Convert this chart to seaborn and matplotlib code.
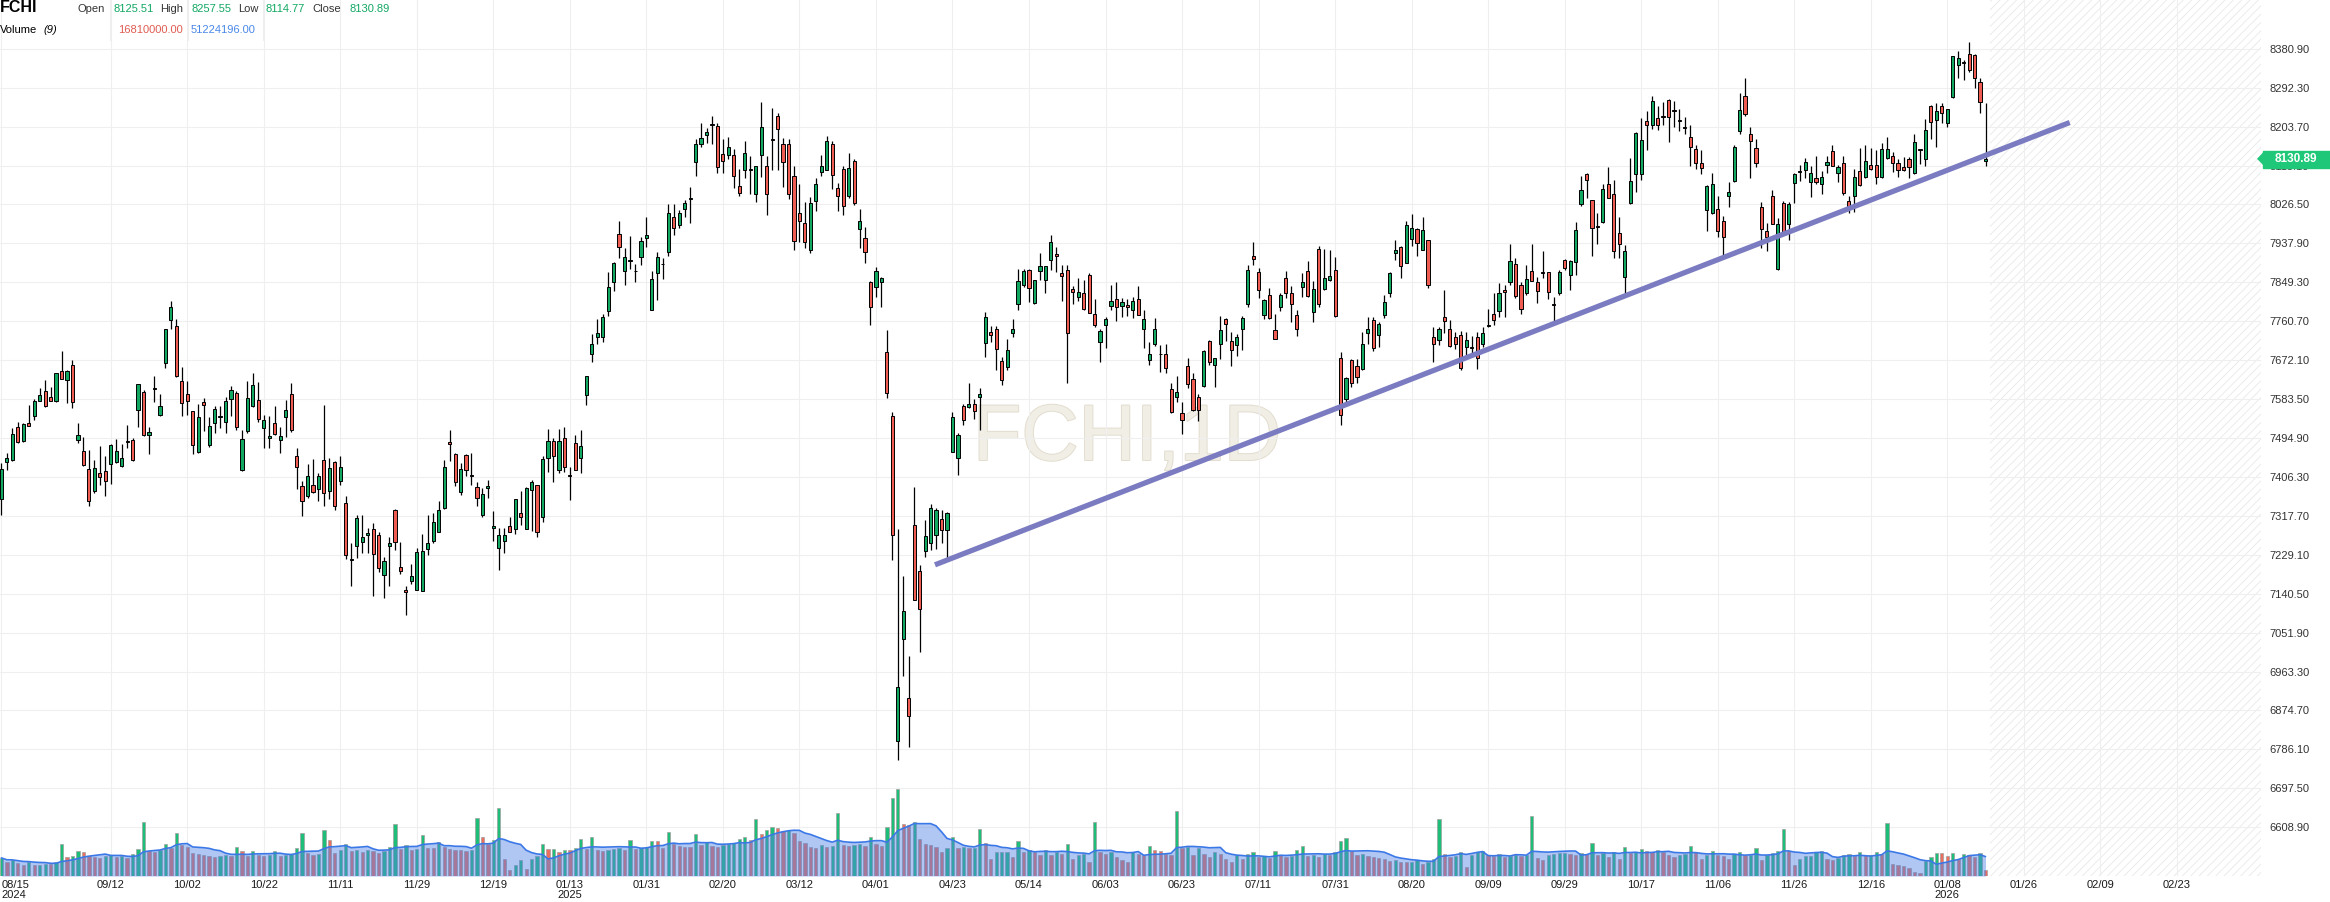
import numpy as np
import pandas as pd
import matplotlib
matplotlib.use("Agg")
import matplotlib.pyplot as plt
import matplotlib.patheffects as pe
from matplotlib.patches import Rectangle, Polygon
from matplotlib.lines import Line2D
import seaborn as sns

# FCHI daily candles, 2024-08-15 .. 2026-01-16
open_ = [
    7356, 7441, 7445, 7520, 7487, 7529, 7544, 7579, 7601, 7588,
    7578, 7648, 7628, 7661, 7490, 7465, 7424, 7375, 7415, 7419,
    7435, 7441, 7432, 7486, 7490, 7558, 7599, 7501, 7607, 7548,
    7665, 7763, 7750, 7624, 7595, 7556, 7464, 7576, 7480, 7528,
    7543, 7531, 7583, 7597, 7421, 7510, 7567, 7582, 7517, 7494,
    7529, 7490, 7542, 7595, 7453, 7385, 7364, 7387, 7378, 7444,
    7374, 7440, 7396, 7346, 7217, 7249, 7258, 7273, 7287, 7273,
    7184, 7250, 7331, 7201, 7150, 7170, 7150, 7147, 7243, 7261,
    7282, 7335, 7485, 7459, 7373, 7457, 7410, 7383, 7319, 7380,
    7289, 7244, 7260, 7295, 7288, 7325, 7288, 7376, 7387, 7314,
    7450, 7489, 7421, 7496, 7411, 7483, 7449, 7592, 7685, 7724,
    7724, 7783, 7851, 7960, 7875, 7898, 7876, 7906, 7951, 7787,
    7871, 7890, 7919, 7999, 7979, 8016, 8040, 8123, 8165, 8184,
    8207, 8206, 8142, 8140, 8140, 8068, 8104, 8105, 8050, 8140,
    8113, 8175, 8227, 8165, 8165, 8092, 8006, 7985, 7922, 8035,
    8101, 8106, 8165, 8063, 8108, 8045, 8125, 7970, 7950, 7851,
    7838, 7851, 7690, 7546, 6805, 7037, 6902, 7296, 7191, 7238,
    7255, 7275, 7311, 7285, 7463, 7449, 7567, 7566, 7573, 7588,
    7712, 7736, 7744, 7670, 7657, 7733, 7801, 7844, 7877, 7803,
    7875, 7854, 7901, 7914, 7871, 7878, 7833, 7816, 7826, 7867,
    7777, 7714, 7753, 7795, 7812, 7795, 7797, 7786, 7812, 7742,
    7672, 7708, 7686, 7687, 7606, 7589, 7551, 7658, 7630, 7589,
    7614, 7715, 7662, 7710, 7765, 7715, 7706, 7744, 7799, 7909,
    7873, 7774, 7820, 7740, 7793, 7858, 7826, 7776, 7839, 7874,
    7782, 7926, 7833, 7854, 7878, 7676, 7583, 7672, 7659, 7651,
    7735, 7764, 7730, 7776, 7824, 7916, 7929, 7894, 7948, 7971,
    7924, 7945, 7725, 7719, 7771, 7744, 7725, 7729, 7701, 7701,
    7724, 7708, 7751, 7777, 7783, 7832, 7849, 7892, 7843, 7824,
    7875, 7849, 7872, 7872, 7799, 7824, 7900, 7867, 7895, 8027,
    8095, 8036, 7977, 7986, 8074, 8051, 7961, 7862, 8030, 8095,
    8095, 8216, 8208, 8224, 8228, 8265, 8240, 8219, 8201, 8180,
    8152, 8120, 8015, 8008, 8017, 7989, 8045, 8080, 8193, 8273,
    8188, 8156, 8020, 7966, 8046, 7880, 8031, 7983, 8076, 8100,
    8106, 8078, 8086, 8072, 8117, 8148, 8099, 8120, 8035, 8046,
    8102, 8088, 8116, 8117, 8088, 8133, 8136, 8122, 8111, 8129,
    8098, 8152, 8129, 8250, 8218, 8251, 8213, 8271, 8345, 8349,
    8370, 8367, 8305, 8125.51,
]
high = [
    7438, 7460, 7517, 7532, 7530, 7569, 7584, 7608, 7627, 7612,
    7644, 7694, 7650, 7672, 7530, 7498, 7467, 7445, 7476, 7453,
    7481, 7492, 7481, 7524, 7496, 7618, 7604, 7519, 7635, 7596,
    7744, 7807, 7765, 7656, 7624, 7557, 7572, 7587, 7542, 7567,
    7567, 7588, 7614, 7601, 7512, 7624, 7644, 7622, 7548, 7545,
    7567, 7519, 7582, 7620, 7472, 7396, 7435, 7447, 7415, 7571,
    7450, 7442, 7453, 7364, 7257, 7319, 7319, 7289, 7301, 7280,
    7223, 7270, 7333, 7258, 7158, 7207, 7244, 7276, 7319, 7324,
    7352, 7445, 7513, 7461, 7437, 7459, 7461, 7395, 7381, 7399,
    7329, 7289, 7291, 7316, 7356, 7374, 7384, 7400, 7389, 7455,
    7515, 7496, 7515, 7520, 7428, 7501, 7513, 7636, 7732, 7766,
    7778, 7873, 7896, 7989, 7928, 7955, 7892, 7953, 7997, 7875,
    7918, 7904, 8028, 8028, 8014, 8037, 8067, 8176, 8213, 8200,
    8227, 8211, 8175, 8181, 8152, 8108, 8170, 8138, 8114, 8259,
    8138, 8247, 8235, 8178, 8176, 8113, 8074, 8033, 8043, 8087,
    8140, 8183, 8170, 8076, 8115, 8144, 8131, 8016, 7975, 7853,
    7885, 7862, 7741, 7554, 7287, 7180, 6998, 7384, 7206, 7308,
    7345, 7335, 7330, 7326, 7554, 7507, 7572, 7620, 7583, 7609,
    7781, 7749, 7749, 7680, 7720, 7765, 7880, 7880, 7880, 7855,
    7917, 7887, 7956, 7929, 7888, 7889, 7842, 7858, 7854, 7870,
    7812, 7744, 7771, 7844, 7849, 7814, 7812, 7817, 7840, 7786,
    7714, 7769, 7706, 7710, 7619, 7636, 7577, 7677, 7642, 7596,
    7695, 7718, 7677, 7772, 7769, 7736, 7731, 7773, 7888, 7941,
    7883, 7812, 7837, 7778, 7824, 7874, 7840, 7786, 7870, 7898,
    7852, 7933, 7926, 7922, 7907, 7691, 7634, 7674, 7674, 7736,
    7771, 7771, 7759, 7820, 7872, 7946, 7933, 7989, 8005, 7973,
    7999, 7946, 7748, 7748, 7831, 7763, 7736, 7738, 7736, 7727,
    7736, 7748, 7789, 7824, 7847, 7843, 7936, 7904, 7849, 7889,
    7936, 7862, 7921, 7873, 7817, 7877, 7902, 7900, 7986, 8092,
    8099, 8037, 8006, 8072, 8112, 8083, 7997, 7934, 8133, 8191,
    8224, 8239, 8273, 8250, 8260, 8267, 8262, 8245, 8226, 8208,
    8163, 8151, 8070, 8099, 8046, 8001, 8078, 8161, 8281, 8315,
    8203, 8176, 8033, 7985, 8059, 7996, 8035, 8033, 8098, 8116,
    8133, 8114, 8137, 8103, 8136, 8161, 8116, 8136, 8046, 8108,
    8156, 8163, 8154, 8151, 8167, 8179, 8145, 8130, 8135, 8135,
    8186, 8153, 8222, 8254, 8258, 8258, 8245, 8365, 8377, 8356,
    8396, 8368, 8314, 8257.55,
]
low = [
    7319, 7422, 7443, 7483, 7485, 7522, 7535, 7578, 7566, 7578,
    7576, 7629, 7574, 7564, 7483, 7432, 7341, 7369, 7387, 7364,
    7391, 7439, 7430, 7473, 7443, 7521, 7500, 7458, 7576, 7546,
    7654, 7744, 7634, 7546, 7548, 7458, 7460, 7510, 7475, 7506,
    7517, 7506, 7544, 7512, 7420, 7507, 7566, 7532, 7472, 7472,
    7502, 7460, 7498, 7508, 7378, 7318, 7358, 7370, 7352, 7339,
    7355, 7331, 7388, 7219, 7158, 7221, 7233, 7234, 7135, 7189,
    7130, 7157, 7240, 7185, 7092, 7163, 7149, 7146, 7228, 7257,
    7281, 7334, 7443, 7385, 7365, 7409, 7388, 7339, 7316, 7359,
    7261, 7195, 7233, 7281, 7277, 7296, 7287, 7284, 7270, 7304,
    7418, 7395, 7415, 7418, 7353, 7422, 7416, 7569, 7669, 7708,
    7714, 7773, 7829, 7904, 7844, 7880, 7849, 7889, 7930, 7786,
    7809, 7857, 7909, 7957, 7972, 7997, 7985, 8092, 8157, 8167,
    8165, 8099, 8099, 8130, 8065, 8045, 8086, 8050, 8033, 8089,
    8003, 8105, 8105, 8067, 8040, 7922, 7940, 7928, 7917, 8011,
    8092, 8104, 8062, 8011, 8003, 8042, 8026, 7928, 7894, 7753,
    7815, 7794, 7585, 7217, 6763, 6953, 6791, 7125, 7007, 7223,
    7240, 7243, 7255, 7218, 7462, 7411, 7525, 7564, 7539, 7512,
    7680, 7714, 7649, 7615, 7649, 7724, 7786, 7839, 7805, 7801,
    7854, 7825, 7878, 7873, 7807, 7621, 7801, 7807, 7786, 7779,
    7748, 7668, 7699, 7786, 7761, 7771, 7772, 7769, 7775, 7699,
    7661, 7704, 7646, 7643, 7552, 7577, 7505, 7608, 7557, 7533,
    7610, 7661, 7611, 7674, 7716, 7658, 7682, 7696, 7792, 7888,
    7814, 7765, 7766, 7720, 7784, 7814, 7758, 7727, 7817, 7817,
    7759, 7793, 7831, 7852, 7770, 7524, 7574, 7612, 7621, 7649,
    7710, 7693, 7702, 7768, 7817, 7899, 7858, 7893, 7932, 7909,
    7923, 7836, 7668, 7706, 7735, 7702, 7697, 7649, 7680, 7680,
    7651, 7702, 7748, 7752, 7771, 7770, 7843, 7813, 7777, 7821,
    7852, 7802, 7858, 7811, 7756, 7821, 7877, 7832, 7867, 8023,
    8042, 7910, 7936, 7985, 8041, 7905, 7905, 7826, 8027, 8054,
    8082, 8151, 8198, 8195, 8208, 8169, 8203, 8193, 8188, 8114,
    8108, 8095, 7966, 8004, 7953, 7909, 8021, 8078, 8186, 8229,
    8086, 8111, 7927, 7921, 7981, 7877, 7960, 7946, 8029, 8080,
    8086, 8044, 8074, 8051, 8098, 8113, 8078, 8048, 8006, 8010,
    8069, 8086, 8105, 8074, 8086, 8131, 8101, 8089, 8103, 8087,
    8095, 8118, 8114, 8176, 8158, 8213, 8203, 8270, 8314, 8309,
    8328, 8292, 8235, 8114.77,
]
close = [
    7424, 7450, 7504, 7485, 7527, 7523, 7579, 7592, 7567, 7579,
    7642, 7630, 7648, 7576, 7501, 7433, 7352, 7426, 7407, 7396,
    7478, 7465, 7449, 7487, 7444, 7617, 7501, 7508, 7608, 7567,
    7743, 7793, 7635, 7574, 7578, 7478, 7542, 7571, 7523, 7561,
    7545, 7579, 7604, 7521, 7492, 7586, 7615, 7538, 7535, 7500,
    7504, 7499, 7558, 7512, 7428, 7352, 7409, 7371, 7408, 7369,
    7426, 7339, 7428, 7228, 7218, 7312, 7269, 7278, 7230, 7198,
    7215, 7255, 7258, 7193, 7144, 7181, 7235, 7237, 7255, 7303,
    7331, 7428, 7481, 7394, 7424, 7421, 7409, 7358, 7367, 7385,
    7294, 7274, 7274, 7282, 7355, 7314, 7381, 7394, 7282, 7447,
    7489, 7454, 7489, 7430, 7409, 7423, 7476, 7635, 7710, 7734,
    7771, 7838, 7894, 7930, 7907, 7900, 7874, 7943, 7956, 7856,
    7907, 7892, 8008, 7974, 8008, 8031, 8042, 8165, 8178, 8191,
    8209, 8111, 8125, 8157, 8092, 8052, 8144, 8107, 8113, 8203,
    8050, 8174, 8199, 8123, 8050, 7943, 7990, 7940, 8029, 8074,
    8115, 8172, 8094, 8045, 8024, 8110, 8031, 7990, 7919, 7792,
    7875, 7860, 7598, 7275, 6927, 7102, 6861, 7126, 7105, 7272,
    7335, 7330, 7285, 7325, 7543, 7502, 7537, 7573, 7557, 7595,
    7771, 7729, 7697, 7628, 7695, 7744, 7852, 7874, 7836, 7854,
    7887, 7886, 7942, 7909, 7864, 7735, 7827, 7827, 7788, 7780,
    7752, 7738, 7765, 7806, 7792, 7805, 7792, 7806, 7776, 7765,
    7686, 7742, 7685, 7655, 7553, 7599, 7537, 7618, 7558, 7558,
    7692, 7667, 7676, 7740, 7755, 7696, 7724, 7767, 7878, 7903,
    7831, 7808, 7767, 7721, 7821, 7824, 7799, 7744, 7850, 7818,
    7835, 7799, 7858, 7863, 7772, 7547, 7632, 7621, 7634, 7710,
    7744, 7699, 7754, 7805, 7871, 7923, 7886, 7980, 7973, 7939,
    7969, 7844, 7710, 7744, 7762, 7704, 7708, 7655, 7719, 7699,
    7677, 7735, 7752, 7764, 7824, 7827, 7898, 7819, 7788, 7857,
    7853, 7830, 7871, 7828, 7797, 7872, 7881, 7898, 7968, 8059,
    8083, 7972, 7975, 8061, 8042, 7920, 7936, 7921, 8080, 8190,
    8174, 8208, 8261, 8208, 8226, 8226, 8239, 8217, 8200, 8158,
    8121, 8110, 8069, 8074, 7966, 7953, 8055, 8158, 8242, 8233,
    8171, 8120, 7970, 7953, 7982, 7983, 7961, 8027, 8097, 8102,
    8124, 8098, 8077, 8088, 8123, 8114, 8111, 8053, 8024, 8088,
    8070, 8126, 8108, 8088, 8152, 8152, 8122, 8106, 8105, 8112,
    8169, 8151, 8197, 8214, 8239, 8235, 8243, 8364, 8360, 8348,
    8332, 8314, 8260, 8130.89,
]
# volume in millions
volume = [
    48, 38, 42, 35, 30, 36, 28, 30, 33, 31, 38, 86, 50, 53, 66, 64, 52, 50, 48, 53,
    55, 50, 52, 47, 58, 72, 143, 66, 64, 68, 86, 73, 115, 81,
    78, 62, 57, 55, 52, 50, 54, 56, 53, 77, 66, 52, 66, 55,
    52, 55, 66, 54, 56, 57, 74, 115, 60, 55, 58, 123, 96, 62,
    70, 86, 66, 68, 64, 70, 66, 62, 65, 77, 139, 72, 83, 70,
    72, 109, 75, 74, 90, 78, 72, 70, 68, 66, 70, 155, 103, 85,
    96, 181, 46, 15, 30, 42, 18, 45, 52, 86, 72, 72, 64, 70,
    68, 75, 99, 72, 103, 70, 66, 68, 72, 74, 70, 96, 72, 75,
    78, 94, 92, 75, 117, 85, 80, 78, 76, 111, 82, 90, 80, 78,
    82, 86, 88, 99, 103, 95, 152, 110, 123, 130, 126, 118, 122, 115,
    92, 88, 78, 74, 82, 76, 80, 168, 82, 79, 81, 84, 80, 103,
    86, 80, 130, 207, 230, 138, 135, 143, 99, 86, 81, 77, 64, 73,
    103, 73, 77, 73, 73, 125, 88, 46, 64, 64, 64, 50, 93, 64,
    68, 64, 55, 68, 55, 64, 59, 85, 46, 55, 59, 37, 143, 64,
    59, 64, 50, 42, 37, 64, 59, 55, 80, 68, 66, 59, 55, 172,
    73, 77, 55, 73, 59, 50, 64, 59, 46, 37, 55, 46, 59, 64,
    50, 52, 48, 66, 55, 50, 53, 70, 79, 52, 55, 50, 58, 56,
    64, 93, 100, 66, 55, 58, 52, 50, 48, 45, 40, 42, 38, 36,
    37, 42, 33, 38, 46, 151, 57, 50, 52, 64, 24, 55, 64, 66,
    55, 52, 58, 50, 53, 55, 52, 56, 159, 48, 42, 55, 58, 60,
    60, 58, 55, 62, 57, 88, 56, 61, 50, 64, 46, 77, 61, 64,
    71, 65, 64, 68, 64, 55, 50, 55, 58, 80, 64, 46, 55, 66,
    55, 52, 46, 58, 64, 55, 55, 73, 42, 55, 61, 66, 125, 66,
    28, 46, 52, 52, 64, 66, 46, 42, 48, 55, 57, 52, 64, 55,
    55, 64, 57, 141, 33, 28, 26, 22, 11, 8, 40, 50, 62, 61,
    52, 62, 46, 57, 56, 50, 62, 16.81,
]

date_ticks = [0, 20, 34, 48, 62, 76, 90, 104, 118, 132, 146, 160, 174, 188, 202,
              216, 230, 244, 258, 272, 286, 300, 314, 328, 342, 356, 370, 384, 398]
date_labels = ["08/15\n2024", "09/12", "10/02", "10/22", "11/11", "11/29", "12/19",
               "01/13\n2025", "01/31", "02/20", "03/12", "04/01", "04/23", "05/14",
               "06/03", "06/23", "07/11", "07/31", "08/20", "09/09", "09/29", "10/17",
               "11/06", "11/26", "12/16", "01/08\n2026", "01/26", "02/09", "02/23"]
price_ticks = [6608.9, 6697.5, 6786.1, 6874.7, 6963.3, 7051.9, 7140.5, 7229.1, 7317.7,
               7406.3, 7494.9, 7583.5, 7672.1, 7760.7, 7849.3, 7937.9, 8026.5, 8115.1,
               8203.7, 8292.3, 8380.9]
trend_x = [170.8, 378.4]
trend_y = [7206.2, 8213.1]

W, H = 2330, 902
UP, DOWN = "#12a862", "#ef5d52"
VUP, VDOWN = "#1ebe78", "#ec6e5f"

sns.set_style("white")
plt.rcParams["font.family"] = ["Liberation Sans", "DejaVu Sans"]
plt.rcParams["hatch.linewidth"] = 0.6

df = pd.DataFrame({"open": open_, "high": high, "low": low, "close": close, "volume": volume})
df["x"] = np.arange(len(df))
df["ma9"] = df["volume"].rolling(9, min_periods=1).mean()
rising = df["close"] >= df["open"]
vol_rising = df["volume"].diff().fillna(0) >= 0

fig = plt.figure(figsize=(W / 100, H / 100), dpi=100)
ax = fig.add_axes([0, 26 / H, 2261 / W, 876 / H])
ax.set_xlim(-0.26, 413.4)
ax.set_ylim(6497.8, 8492.0)
for s in ax.spines.values():
    s.set_visible(False)

ax.set_axisbelow(True)
ax.grid(True, color="#efefef", lw=0.8)
ax.axvspan(363.8, 420, facecolor="none", edgecolor="#e8e8e8", hatch="////", lw=0, zorder=0)

# watermark
ax.text(205.9, 7444.8, "FCHI,1D", fontsize=57, color="#f1eee6", ha="center", va="baseline",
        zorder=0.5, path_effects=[pe.withStroke(linewidth=1.4, foreground="#e2ddcf")])

# candles
ax.vlines(df["x"], df["low"], df["high"], color="black", lw=0.9, zorder=2)
body_lo = df[["open", "close"]].min(axis=1)
body_h = (df["close"] - df["open"]).abs().clip(lower=2)
ax.bar(df["x"], body_h, bottom=body_lo, width=0.58,
       color=np.where(rising, UP, DOWN), edgecolor="black", linewidth=0.7, zorder=3)

ax.plot(trend_x, trend_y, color="#7b7bc1", lw=3.8, solid_capstyle="butt", zorder=5)

# volume panel (shares the x axis, own y scale)
vax = ax.twinx()
vax.set_ylim(0, 876 * 2.65)
vax.bar(df["x"], df["volume"], width=0.6, color=np.where(vol_rising, VUP, VDOWN),
        edgecolor="#a0a0a0", linewidth=0.5, zorder=1)
vax.fill_between(df["x"], df["ma9"], color="#5082e6", alpha=0.45, lw=0, zorder=2)
sns.lineplot(x=df["x"], y=df["ma9"], ax=vax, color="#3b78e7", lw=1.2, zorder=3)
vax.set_xlabel("")
vax.set_ylabel("")
vax.set_yticks([])
vax.grid(False)
for s in vax.spines.values():
    s.set_visible(False)

# price axis on the right (twinx moves it left, so set it after)
ax.yaxis.tick_right()
ax.yaxis.set_label_position("right")
ax.set_yticks(price_ticks)
ax.set_yticklabels([f"{v:.2f}" for v in price_ticks])
ax.tick_params(axis="y", which="both", left=False, right=False, labelleft=False,
               labelright=True, length=0, pad=6, labelsize=8, labelcolor="#333333")
ax.set_xticks(date_ticks)
ax.set_xticklabels(date_labels)
ax.tick_params(axis="x", length=0, pad=3, labelsize=8, labelcolor="#1a1a1a")
for i, lbl in enumerate(ax.get_xticklabels()):
    lbl.set_linespacing(1.0)
    if i == 0:
        lbl.set_horizontalalignment("left")
ax.set_xlim(-0.26, 413.4)


def fx(x):
    return x / W


def fy(y):
    return 1 - y / H


# header
fig.text(fx(0), fy(8), "FCHI", fontsize=11.5, fontweight="bold", color="black", va="center")
row1 = [(77, "Open", "#333333"), (113, "8125.51", UP), (160, "High", "#333333"),
        (191, "8257.55", UP), (238, "Low", "#333333"), (266, "8114.77", UP),
        (312, "Close", "#333333"), (349, "8130.89", UP)]
for x, t, c in row1:
    fig.text(fx(x), fy(9), t, fontsize=8, color=c, va="center")
fig.text(fx(0), fy(30), "Volume", fontsize=8, color="black", va="center")
fig.text(fx(43), fy(30), "(9)", fontsize=8, color="black", va="center", style="italic")
fig.text(fx(118), fy(30), "16810000.00", fontsize=8, color="#e05c52", va="center")
fig.text(fx(191), fy(30), "51224196.00", fontsize=8, color="#4a88e8", va="center")
for x in [110, 188, 263, 340, 417]:
    fig.add_artist(Line2D([fx(x), fx(x)], [fy(0), fy(40)], color="#eeeeee", lw=0.8,
                          transform=fig.transFigure))

# last price tag
fig.add_artist(Rectangle((fx(2263), fy(167.5)), 67 / W, 17 / H, transform=fig.transFigure,
                         color="#1ec878", zorder=10))
fig.add_artist(Polygon([(fx(2258), fy(158.8)), (fx(2263.5), fy(153)), (fx(2263.5), fy(164.5))],
                       closed=True, transform=fig.transFigure, color="#1ec878", zorder=10))
fig.text(fx(2296), fy(158.8), "8130.89", fontsize=8.5, color="white", fontweight="bold",
         ha="center", va="center", zorder=11)

fig.savefig("out.png", dpi=100)
